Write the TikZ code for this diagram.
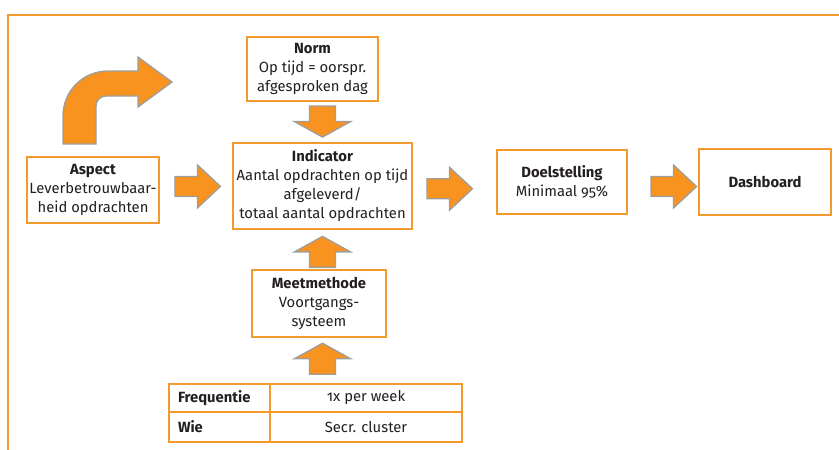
\documentclass[tikz,border=0pt]{standalone}
\usepackage{fontspec}
\setmainfont{Fira Sans}[Numbers=OldStyle]
\usetikzlibrary{calc}
\definecolor{frameorange}{HTML}{F39A2E}
\definecolor{arrowfill}{HTML}{F7931E}
\definecolor{arrowline}{HTML}{9E9E9E}
\definecolor{ink}{HTML}{231F20}
\tikzset{
  x=1pt, y=-1pt,
  box/.style={draw=frameorange, line width=1.6pt, fill=white, align=center,
    text=ink, font=\fontsize{14.8}{19}\selectfont, inner sep=2pt},
  cell/.style={draw=frameorange, line width=1.6pt, text=ink,
    font=\fontsize{14.8}{19}\selectfont, minimum height=28pt, inner sep=0pt},
  blockfill/.style={fill=arrowfill, draw=arrowline, line width=1.3pt, line join=miter},
  harrow/.pic={\filldraw[blockfill] (-22.5,-10) -- (0,-10) -- (0,-21.5) -- (23,0)
      -- (0,21.5) -- (0,10) -- (-22.5,10) -- cycle;},
  varrow/.pic={\filldraw[blockfill] (-13,-15.5) -- (13,-15.5) -- (13,0) -- (28,0)
      -- (0,15.5) -- (-28,0) -- (-13,0) -- cycle;},
}
\begin{document}
\begin{tikzpicture}
\useasboundingbox (0,0) rectangle (839,450);
\clip (0,0) rectangle (839,450);

% outer frame
\draw[frameorange, line width=1.8pt] (8,480) -- (8,15) -- (870,15);

% boxes
\node[box, minimum width=131pt, minimum height=64pt] (norm) at (312.5,69)
  {\textbf{Norm}\\Op tijd = oorspr.\\afgesproken dag};
\node[box, minimum width=179pt, minimum height=86pt] (ind) at (322.5,186)
  {\textbf{Indicator}\\Aantal opdrachten op tijd\\afgeleverd/\\totaal aantal opdrachten};
\node[box, minimum width=132pt, minimum height=66pt] (aspect) at (93,190)
  {\textbf{Aspect}\\Leverbetrouwbaar-\\heid opdrachten};
\node[box, minimum width=130pt, minimum height=64pt] (doel) at (562,182)
  {\textbf{Doelstelling}\\Minimaal 95\%};
\node[box, minimum width=132pt, minimum height=66pt] (dash) at (765,182)
  {\textbf{Dashboard}};
\node[box, minimum width=134pt, minimum height=67pt] (meet) at (319,303.5)
  {\textbf{Meetmethode}\\Voortgangs-\\systeem};

% table
\node[cell, minimum width=101pt, text width=83pt, align=left] (freq) at (219.5,398)
  {\textbf{Frequentie}};
\node[cell, minimum width=192pt, align=center] (week) at (366,398) {1x per week};
\node[cell, minimum width=101pt, minimum height=30pt, text width=83pt, align=left] (wie)
  at (219.5,427) {\textbf{Wie}};
\node[cell, minimum width=192pt, minimum height=30pt, align=center] (secr)
  at (366,427) {Secr. cluster};

% block arrows between the boxes
\path ($(aspect.east)!0.52!(ind.west)$) ++(0,-1.5) pic {harrow};
\path ($(ind.east)!0.44!(doel.west)$) ++(0,4.5) pic {harrow};
\path ($(doel.east)!0.65!(dash.west)$) ++(0,4.5) pic {harrow};
\path ($(norm.south -| ind.south)!0.49!(ind.north)$) pic {varrow};
\path ($(ind.south)!0.56!(meet.north -| ind.south)$) pic[yscale=-1] {varrow};
\path ($(meet.south -| ind.south)!0.46!(freq.north -| ind.south)$) pic[yscale=-1] {varrow};

% bent arrow above the aspect box
\filldraw[blockfill] (63,144) -- (63,116)
  .. controls (63,91) and (83,71) .. (108,71)
  -- (138,71) -- (138,57) -- (172,82) -- (138,107) -- (138,96) -- (106,96)
  .. controls (100.5,96) and (96,100.5) .. (96,106) -- (96,144) -- cycle;
\end{tikzpicture}
\end{document}
